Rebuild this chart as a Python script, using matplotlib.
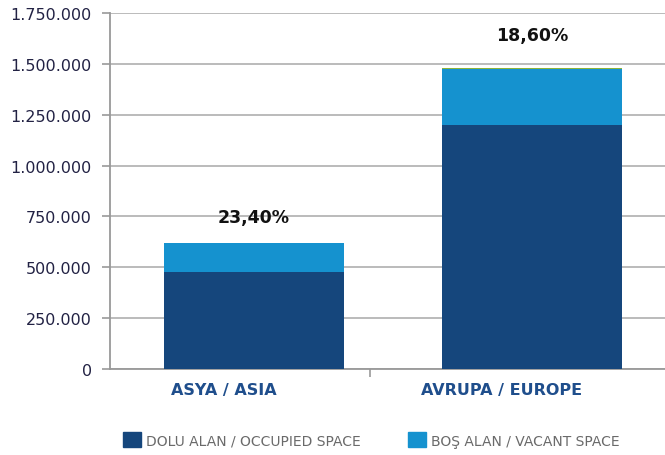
import matplotlib.pyplot as plt
from matplotlib.ticker import FuncFormatter
from matplotlib.patches import Patch

# values
regions = ['ASYA / ASIA', 'AVRUPA / EUROPE']
occupied = [475000, 1200000]
vacant = [145000, 274000]
other = [0, 6000]
vacancy_labels = ['23,40%', '18,60%']

dark_blue = '#15467c'
light_blue = '#1592cf'
green = '#8db33a'

fig = plt.figure(figsize=(6.65, 4.56), dpi=100)
ax = fig.add_axes([0.1654, 0.1886, 0.86, 0.7807])

x = [0, 1]
w = 0.648
ax.bar(x, occupied, width=w, color=dark_blue, zorder=3)
ax.bar(x, vacant, width=w, bottom=occupied, color=light_blue, zorder=3)
tops = [o + v for o, v in zip(occupied, vacant)]
ax.bar(x, other, width=w, bottom=tops, color=green, zorder=3)

# label offsets above bar tops
label_gap = [127000, 167000]
for xi, t, g, lab in zip(x, tops, label_gap, vacancy_labels):
    ax.text(xi, t + g, lab, ha='center', va='center', fontsize=12.5,
            fontweight='bold', color='#111111', zorder=4)

ax.set_ylim(0, 1750000)
ax.set_xlim(-0.518, 1.54)
ax.set_yticks(range(0, 1750001, 250000))
ax.yaxis.set_major_formatter(FuncFormatter(lambda v, p: f'{int(v):,}'.replace(',', '.')))
ax.tick_params(axis='y', labelsize=11.5, labelcolor='#222244', color='#999999',
               length=6, width=1.2, pad=7)
ax.grid(axis='y', color='#b5b5b5', linewidth=1.3, zorder=0)

ax.set_xticks([0.417])
ax.set_xticklabels([''])
ax.tick_params(axis='x', color='#999999', length=6, width=1.2, direction='out')
for xi, lab in zip(x, regions):
    ax.text(xi - 0.11, -62000, lab, ha='center', va='top', fontsize=11.5,
            fontweight='bold', color='#1f4e8c')

for s in ['top', 'right']:
    ax.spines[s].set_visible(False)
for s in ['left', 'bottom']:
    ax.spines[s].set_color('#999999')
    ax.spines[s].set_linewidth(1.3)

handles = [Patch(color=dark_blue), Patch(color=light_blue)]
fig.legend(handles, ['DOLU ALAN / OCCUPIED SPACE', 'BOŞ ALAN / VACANT SPACE'],
           loc='center left', bbox_to_anchor=(0.185, 0.033), ncol=2, frameon=False,
           fontsize=10, labelcolor='#6a6a6a', handlelength=1.3, handleheight=1.3,
           handletextpad=0.35, columnspacing=3.4, borderaxespad=0, borderpad=0)

fig.savefig('out.png', dpi=100)
